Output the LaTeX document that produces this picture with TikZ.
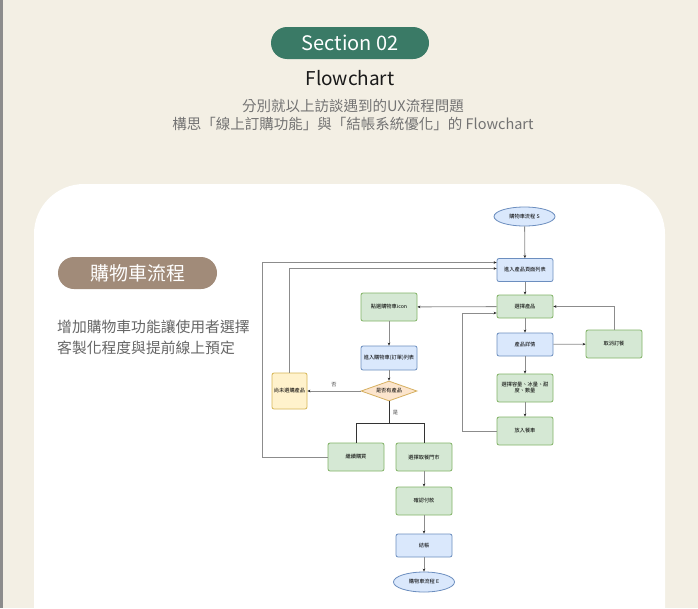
\documentclass[tikz,border=0pt]{standalone}
\usepackage{fontspec}
\setmainfont{Noto Sans CJK TC}
\usepackage{tikz}
\usetikzlibrary{arrows.meta}
\usetikzlibrary{calc}
\usetikzlibrary{shapes.geometric,positioning}

\definecolor{paper}{HTML}{F3EFE4}
\definecolor{sectiongreen}{HTML}{3A7A66}
\definecolor{pillbrown}{HTML}{A18B79}
\definecolor{bluefill}{HTML}{DAE8FC}
\definecolor{blueline}{HTML}{6C8EBF}
\definecolor{greenfill}{HTML}{D5E8D4}
\definecolor{greenline}{HTML}{82B366}
\definecolor{yellowfill}{HTML}{FFF2CC}
\definecolor{yellowline}{HTML}{D6B656}
\definecolor{orangefill}{HTML}{FCE5CD}
\definecolor{orangeline}{HTML}{D6B060}

\begin{document}
\begin{tikzpicture}[x=1pt,y=-1pt,
    tiny/.style={font=\fontsize{5.2}{6}\selectfont},
    box/.style={tiny, rectangle, rounded corners=2pt, line width=0.8pt,
      minimum width=56pt, minimum height=28pt, inner sep=1pt, align=center},
    bluebox/.style={box, fill=bluefill, draw=blueline, minimum height=23pt},
    greenbox/.style={box, fill=greenfill, draw=greenline},
    yellowbox/.style={box, fill=yellowfill, draw=yellowline,
      minimum width=35pt, minimum height=36pt},
    decision/.style={tiny, diamond, aspect=2.8, fill=orangefill, draw=orangeline,
      line width=0.8pt, minimum width=56pt, minimum height=20pt, inner sep=0.5pt},
    terminal/.style={tiny, ellipse, fill=bluefill, draw=blueline, line width=0.8pt,
      minimum width=61pt, minimum height=19pt, inner sep=0pt},
    flow/.style={draw=black!45, line width=0.8pt,
      -{Stealth[length=3pt,width=2.6pt,color=black!85]}},
    branch/.style={draw=black!80, line width=1pt}]
      \useasboundingbox (0,0) rectangle (698,608);

      % background
      \fill[paper] (0,0) rectangle (698,608);
      \fill[black!45] (0,0) rectangle (3,608);
      \fill[white, rounded corners=50pt] (34,184) rectangle (665,680);

      % title
      \node[fill=sectiongreen, text=white, rounded corners=16pt,
        minimum width=158pt, minimum height=32pt, font=\fontsize{20}{20}\selectfont]
        (section) at (350,43) {Section 02};
      \node[font=\fontsize{19}{20}\selectfont, text=black!90] (heading) at (350,78) {Flowchart};
      \node[font=\fontsize{14.5}{18}\selectfont, text=black!55, align=center]
        (subtitle) at (353,115) {分別就以上訪談遇到的UX流程問題\\構思「線上訂購功能」與「結帳系統優化」的 Flowchart};

      % left column
      \node[fill=pillbrown, text=white, rounded corners=16pt,
        minimum width=159pt, minimum height=32pt, font=\fontsize{19}{20}\selectfont]
        (cartpill) at (137.5,273) {購物車流程};
      \node[font=\fontsize{14.8}{21}\selectfont, text=black!60, align=left, anchor=west, inner sep=0pt]
        (desc) at (57,337.5) {增加購物車功能讓使用者選擇\\客製化程度與提前線上預定};

      % flowchart nodes
      \node[terminal] (start) at (524.5,216.5) {購物車流程 S};
      \node[bluebox] (list) at (525,270) {進入產品頁面列表};
      \node[greenbox, minimum height=23pt] (pick) at (525,306.5) {選擇產品};
      \node[greenbox] (icon) at (389,307) {點選購物車icon};
      \node[bluebox] (detail) at (525,344.5) {產品詳情};
      \node[greenbox] (cancel) at (614,344) {取消訂餐};
      \node[greenbox] (options) at (525,388) {選擇容量、冰量、甜\\度、數量};
      \node[greenbox] (addcart) at (525,431) {放入餐車};
      \node[bluebox, minimum height=24pt] (cartlist) at (389,358) {進入購物車(訂單)列表};
      \node[decision] (check) at (389,391) {是否有產品};
      \node[yellowbox] (notyet) at (289.5,391) {尚未選購產品};
      \node[greenbox] (keepbuy) at (356,457) {繼續購買};
      \node[greenbox] (store) at (424,457) {選擇取餐門市};
      \node[greenbox] (pay) at (424,501) {確認付款};
      \node[bluebox] (checkout) at (424,545.5) {結帳};
      \node[terminal, minimum height=20pt] (finish) at (424,582) {購物車流程 E};

      % connectors
      \draw[flow] (start) -- (list);
      \draw[flow] (list) -- (pick);
      \draw[flow] (pick) -- (icon);
      \draw[flow] (pick) -- (detail);
      \draw[flow] (detail) -- (cancel);
      \draw[flow] (cancel.north) |- (pick.east);
      \draw[flow] (detail) -- (options);
      \draw[flow] (options) -- (addcart);
      \draw[flow] (addcart.west) -- ++(-34,0) |- ([yshift=-6.5pt]pick.west);
      \draw[flow] (icon) -- (cartlist);
      \draw[flow] (cartlist) -- (check);
      \draw[flow] (check) -- node[tiny, above, text=black!70] {否} (notyet);
      \draw[flow] (notyet.north) |- ([yshift=1.5pt]list.west);
      \draw[flow] (keepbuy.west) -- ++(-65,0) |- ([yshift=7.5pt]list.west);
      \draw[branch] (check.south) -- ++(0,22) coordinate (fork)
        node[tiny, right, midway, text=black!70] {是};
      \draw[branch] (keepbuy.north) |- (fork) -| (store.north);
      \draw[flow] (store) -- (pay);
      \draw[flow] (pay) -- (checkout);
      \draw[flow] (checkout) -- (finish);
    \end{tikzpicture}
\end{document}
